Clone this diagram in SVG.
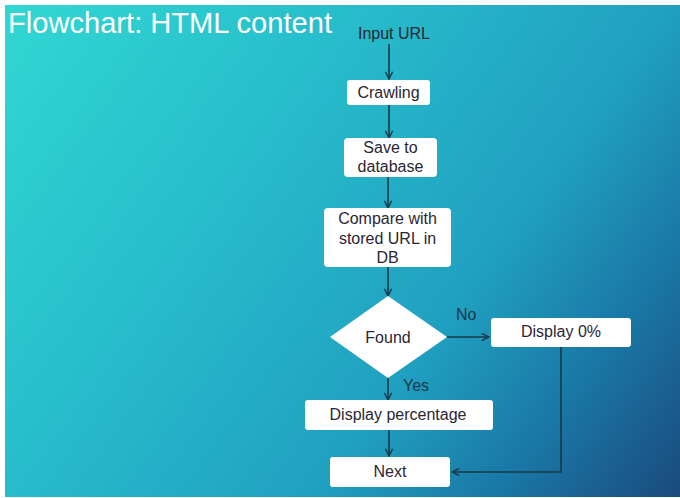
<svg xmlns="http://www.w3.org/2000/svg" width="680" height="498" viewBox="0 0 680 498">
  <defs>
    <linearGradient id="bg" gradientUnits="userSpaceOnUse" x1="0" y1="0" x2="680" y2="498">
      <stop offset="0" stop-color="#31d8d3"/>
      <stop offset="0.35" stop-color="#27bccb"/>
      <stop offset="0.65" stop-color="#20a0c0"/>
      <stop offset="0.82" stop-color="#1a78a6"/>
      <stop offset="1" stop-color="#1a4a7c"/>
    </linearGradient>
    <marker id="arrow" viewBox="0 0 10 10" refX="9" refY="5" markerWidth="9" markerHeight="9" markerUnits="userSpaceOnUse" orient="auto">
      <path d="M1,1 L9,5 L1,9" fill="none" stroke="#17394a" stroke-width="1.6"/>
    </marker>
    <style>
      .box { fill: #ffffff; }
      .label { font-family: "Liberation Sans", Arial, sans-serif; font-size: 16px; fill: #2b2633; text-anchor: middle; }
      .title { font-family: "Liberation Sans", Arial, sans-serif; font-size: 29px; fill: #ffffff; }
      .edge { fill: none; stroke: #17394a; stroke-width: 1.6; }
      .tag { font-family: "Liberation Sans", Arial, sans-serif; font-size: 16px; fill: #17394a; }
    </style>
  </defs>

  <!-- slide background with white margin -->
  <rect x="0" y="0" width="680" height="498" fill="#ffffff"/>
  <rect x="5" y="5" width="675" height="492" fill="url(#bg)"/>

  <text class="title" x="8" y="33" textLength="324" lengthAdjust="spacingAndGlyphs">Flowchart: HTML content</text>

  <!-- connectors -->
  <g id="connectors">
    <line class="edge" x1="389" y1="44" x2="389" y2="79" marker-end="url(#arrow)"/>
    <line class="edge" x1="389" y1="105" x2="389" y2="138" marker-end="url(#arrow)"/>
    <line class="edge" x1="388" y1="177" x2="388" y2="208" marker-end="url(#arrow)"/>
    <line class="edge" x1="388" y1="267" x2="388" y2="296" marker-end="url(#arrow)"/>
    <line class="edge" x1="447" y1="337" x2="489" y2="337" marker-end="url(#arrow)"/>
    <line class="edge" x1="388" y1="378" x2="388" y2="400" marker-end="url(#arrow)"/>
    <line class="edge" x1="389" y1="430" x2="389" y2="456" marker-end="url(#arrow)"/>
    <polyline class="edge" points="561,347 561,472 452,472" marker-end="url(#arrow)"/>
    <text class="tag" x="456" y="320">No</text>
    <text class="tag" x="403" y="391">Yes</text>
  </g>

  <g id="input-url">
    <text class="label" x="394" y="39">Input URL</text>
  </g>

  <g id="crawling">
    <rect class="box" x="347" y="80" width="83" height="25" rx="3"/>
    <text class="label" x="388.5" y="98">Crawling</text>
  </g>

  <g id="save-to-database">
    <rect class="box" x="344" y="138" width="93" height="39" rx="4"/>
    <text class="label" x="390.5" y="153">Save to</text>
    <text class="label" x="390.5" y="172">database</text>
  </g>

  <g id="compare">
    <rect class="box" x="324" y="208" width="127" height="59" rx="4"/>
    <text class="label" x="387.5" y="224">Compare with</text>
    <text class="label" x="387.5" y="244">stored URL in</text>
    <text class="label" x="387.5" y="263">DB</text>
  </g>

  <g id="found">
    <polygon class="box" points="388,296 447,337 388,378 330,337"/>
    <text class="label" x="388" y="343">Found</text>
  </g>

  <g id="display-zero">
    <rect class="box" x="491" y="318" width="140" height="29" rx="3"/>
    <text class="label" x="561" y="337">Display 0%</text>
  </g>

  <g id="display-percentage">
    <rect class="box" x="305" y="400" width="188" height="30" rx="3"/>
    <text class="label" x="398" y="420">Display percentage</text>
  </g>

  <g id="next">
    <rect class="box" x="330" y="457" width="120" height="30" rx="3"/>
    <text class="label" x="390" y="477">Next</text>
  </g>
</svg>
